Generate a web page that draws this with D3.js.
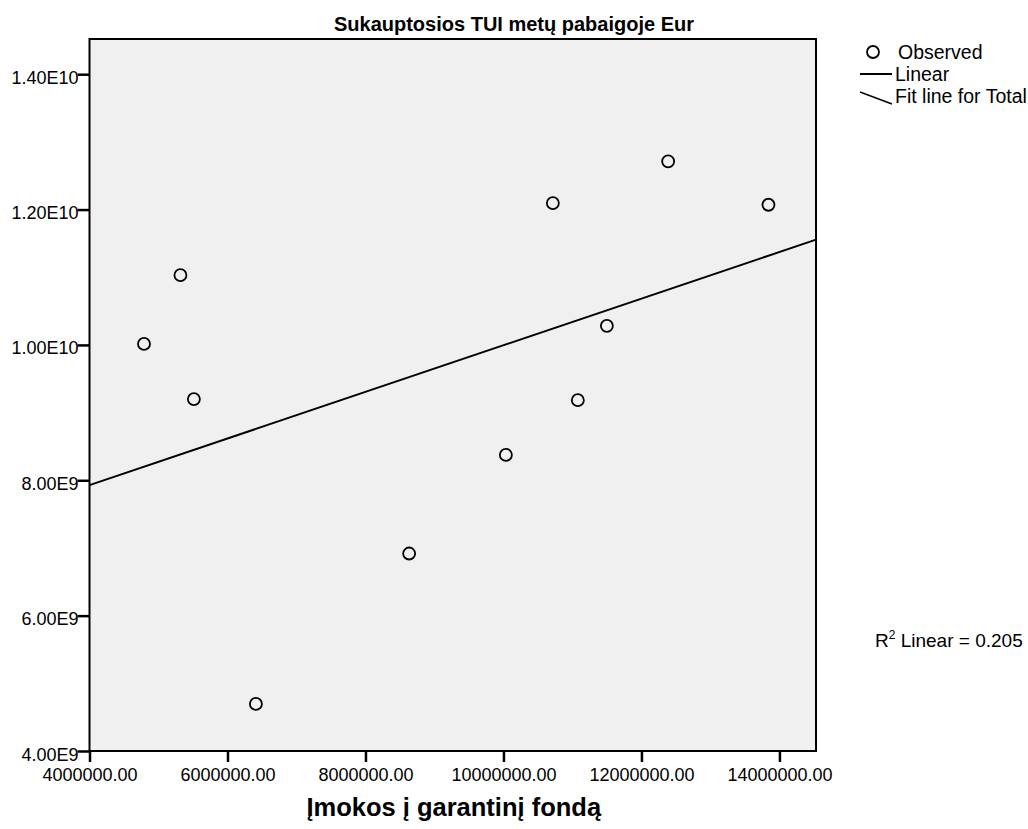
<!DOCTYPE html>
<html>
<head>
<meta charset="utf-8">
<script src="https://cdn.jsdelivr.net/npm/d3@7"></script>
<style>
  body { margin: 0; background: #fff; }
  text { font-family: Arial, "Liberation Sans", sans-serif; fill: #000; }
</style>
</head>
<body>
<div id="chart"></div>
<script>
// data: payments to guarantee fund vs accumulated assets
var imokos = [4790000, 5318000, 5513000, 6412000, 8633000, 10035000, 10716000, 11078000, 11499000, 12387000, 13841000];
var sukauptos = [10.015e9, 11.03e9, 9.20e9, 4.695e9, 6.918e9, 8.375e9, 12.096e9, 9.184e9, 10.282e9, 12.712e9, 12.071e9];

var xTicks = [4000000, 6000000, 8000000, 10000000, 12000000, 14000000];
var yTicks = [4e9, 6e9, 8e9, 10e9, 12e9, 14e9];
var yTickLabels = ["4.00E9", "6.00E9", "8.00E9", "1.00E10", "1.20E10", "1.40E10"];

var svgWidth = 1028;
var svgHeight = 829;

var margin = {top: 39, right: 212, bottom: 78, left: 89.5};
var chartWidth = svgWidth - margin.left - margin.right;
var chartHeight = svgHeight - margin.top - margin.bottom;

var svg = d3.select("#chart")
  .append("svg")
  .attr("width", svgWidth)
  .attr("height", svgHeight);

var chartGroup = svg.append("g")
  .attr("transform", `translate(${margin.left}, ${margin.top})`);

var points = imokos.map(function(x, i) { return {x: x, y: sukauptos[i]}; });

var xScale = d3.scaleLinear()
  .domain([4000000, 14530000])
  .range([0, chartWidth]);

var yScale = d3.scaleLinear()
  .domain([4e9, 14.52e9])
  .range([chartHeight, 0]);

// plot background
chartGroup.append("rect")
  .attr("width", chartWidth)
  .attr("height", chartHeight)
  .attr("fill", "#f0f0f0");

// least squares fit
var mx = d3.mean(points, d => d.x);
var my = d3.mean(points, d => d.y);
var sxy = d3.sum(points, d => (d.x - mx) * (d.y - my));
var sxx = d3.sum(points, d => (d.x - mx) * (d.x - mx));
var syy = d3.sum(points, d => (d.y - my) * (d.y - my));
var slope = sxy / sxx;
var intercept = my - slope * mx;
var r2 = sxy * sxy / (sxx * syy);

var xd = xScale.domain();
chartGroup.append("line")
  .attr("x1", xScale(xd[0]))
  .attr("y1", yScale(intercept + slope * xd[0]))
  .attr("x2", xScale(xd[1]))
  .attr("y2", yScale(intercept + slope * xd[1]))
  .attr("stroke", "#000")
  .attr("stroke-width", 2);

chartGroup.selectAll("circle.obs")
  .data(points)
  .enter()
  .append("circle")
  .attr("class", "obs")
  .attr("cx", d => xScale(d.x))
  .attr("cy", d => yScale(d.y))
  .attr("r", 6)
  .attr("fill", "none")
  .attr("stroke", "#000")
  .attr("stroke-width", 1.8);

// frame
chartGroup.append("rect")
  .attr("width", chartWidth)
  .attr("height", chartHeight)
  .attr("fill", "none")
  .attr("stroke", "#000")
  .attr("stroke-width", 2);

// axes
var bottomAxis = d3.axisBottom(xScale)
  .tickValues(xTicks)
  .tickSize(11)
  .tickPadding(6)
  .tickFormat(d => d.toFixed(2));

var leftAxis = d3.axisLeft(yScale)
  .tickValues(yTicks)
  .tickSize(12)
  .tickPadding(-1)
  .tickFormat((d, i) => yTickLabels[i]);

var xAxisG = chartGroup.append("g")
  .attr("transform", `translate(0, ${chartHeight})`)
  .call(bottomAxis);

var yAxisG = chartGroup.append("g")
  .call(leftAxis);

[xAxisG, yAxisG].forEach(function(g) {
  g.select(".domain").remove();
  g.selectAll("line").attr("stroke", "#000").attr("stroke-width", 2.5);
  g.selectAll("text")
    .attr("font-size", 18)
    .attr("font-family", "Arial, 'Liberation Sans', sans-serif")
    .attr("fill", "#000");
});
yAxisG.selectAll("text").attr("dy", "0.5em");

// title, centred over the whole chart
svg.append("text")
  .attr("x", svgWidth / 2)
  .attr("y", 31)
  .attr("text-anchor", "middle")
  .attr("font-size", 20)
  .attr("font-weight", "bold")
  .text("Sukauptosios TUI metų pabaigoje Eur");

// x axis label
svg.append("text")
  .attr("x", margin.left + chartWidth / 2 + 1)
  .attr("y", 816)
  .attr("text-anchor", "middle")
  .attr("font-size", 25.5)
  .attr("font-weight", "bold")
  .text("Įmokos į garantinį fondą");

// legend
var legend = svg.append("g");
legend.append("circle")
  .attr("cx", 873).attr("cy", 52).attr("r", 6)
  .attr("fill", "none").attr("stroke", "#000").attr("stroke-width", 1.8);
legend.append("text")
  .attr("x", 898).attr("y", 59).attr("font-size", 19.5).text("Observed");
legend.append("line")
  .attr("x1", 860).attr("x2", 892).attr("y1", 74).attr("y2", 74)
  .attr("stroke", "#000").attr("stroke-width", 2);
legend.append("text")
  .attr("x", 895).attr("y", 81).attr("font-size", 19.5).text("Linear");
legend.append("line")
  .attr("x1", 860).attr("y1", 92).attr("x2", 892).attr("y2", 104)
  .attr("stroke", "#000").attr("stroke-width", 1.5);
legend.append("text")
  .attr("x", 895).attr("y", 103).attr("font-size", 19.5).text("Fit line for Total");

// R squared note
var r2Text = svg.append("text")
  .attr("x", 875).attr("y", 647).attr("font-size", 19);
r2Text.append("tspan").text("R");
r2Text.append("tspan").attr("font-size", 12).attr("dy", -8).text("2");
r2Text.append("tspan").attr("dy", 8).text(" Linear = " + d3.format(".3f")(r2));
</script>
</body>
</html>
